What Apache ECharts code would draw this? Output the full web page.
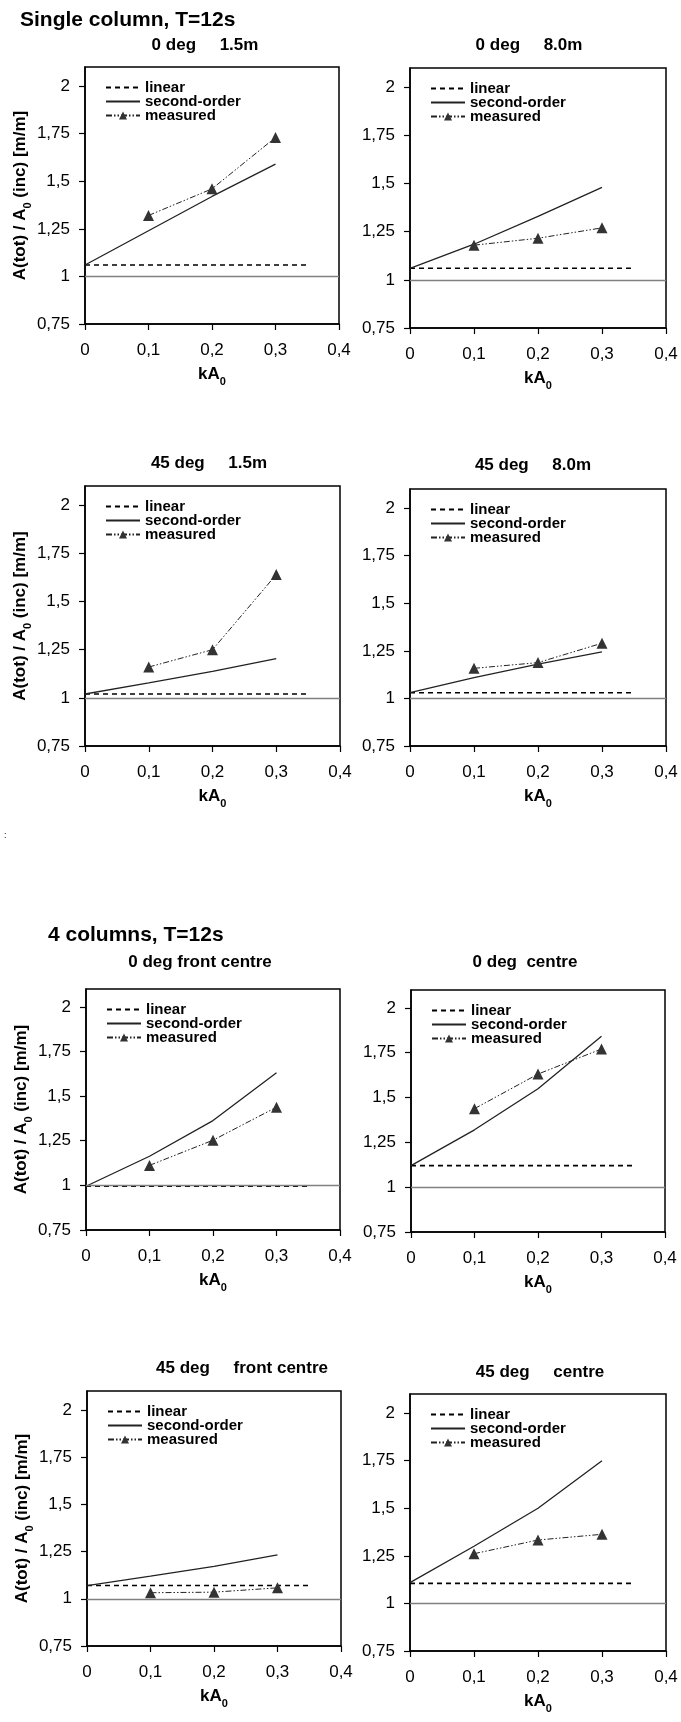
<!DOCTYPE html>
<html>
<head>
<meta charset="utf-8">
<script src="https://cdn.jsdelivr.net/npm/echarts@6/dist/echarts.min.js"></script>
<style>
html,body{margin:0;padding:0;background:#fff}
#main{width:681px;height:1722px}
</style>
</head>
<body>
<div id="main"></div>
<script>
// x values
var xSecond = [0, 0.1, 0.2, 0.3];
var xMeasured = [0.1, 0.2, 0.3];
var xLinear = [0, 0.35];
var xTicks = [0, 0.1, 0.2, 0.3, 0.4];
var yTicks = [0.75, 1, 1.25, 1.5, 1.75, 2];

var panelTitles = ['0 deg     1.5m', '0 deg     8.0m', '45 deg     1.5m', '45 deg     8.0m',
  '0 deg front centre', '0 deg  centre', '45 deg     front centre', '45 deg     centre'];

// linear (horizontal level)
var linearLevel = [1.06, 1.06, 1.02, 1.03, 0.995, 1.12, 1.07, 1.105];

// second-order at x = 0, 0.1, 0.2, 0.3
var secondOrder = [
  [1.06, 1.24, 1.42, 1.59],
  [1.06, 1.185, 1.33, 1.48],
  [1.02, 1.078, 1.138, 1.204],
  [1.03, 1.109, 1.18, 1.245],
  [0.995, 1.163, 1.363, 1.631],
  [1.12, 1.32, 1.549, 1.842],
  [1.07, 1.12, 1.172, 1.232],
  [1.109, 1.30, 1.50, 1.749]
];

// measured at x = 0.1, 0.2, 0.3
var measured = [
  [1.32, 1.46, 1.73],
  [1.18, 1.216, 1.27],
  [1.16, 1.25, 1.64],
  [1.158, 1.188, 1.29],
  [1.112, 1.253, 1.438],
  [1.438, 1.631, 1.771],
  [1.032, 1.035, 1.058],
  [1.261, 1.333, 1.363]
];

// 布局: left, top, width, height
var boxes = [
  [85, 67, 254, 257],
  [410, 68, 256, 260],
  [85, 486, 255, 260],
  [410, 489, 256, 257],
  [86, 989, 254, 241],
  [411, 990, 254, 242],
  [87, 1391, 254, 255],
  [410, 1394, 256, 257]
];
var titlePos = [[205, 45], [529, 45], [209, 463], [533, 465], [200, 962], [525, 962], [242, 1368], [540, 1372]];

var FONT = '"Liberation Sans", Arial, sans-serif';

function fmt(v) {
  return String(v).replace('.', ',');
}
function pairs(xs, ys) {
  var out = [];
  for (var i = 0; i < xs.length; i++) out.push([xs[i], ys[i]]);
  return out;
}

var richSub = {
  b: {fontSize: 17, fontWeight: 'bold', color: '#000', lineHeight: 17, verticalAlign: 'top', fontFamily: FONT},
  sub: {fontSize: 11, fontWeight: 'bold', color: '#000', lineHeight: 11, verticalAlign: 'top', padding: [10, 0, 0, 0], fontFamily: FONT}
};

var grids = [], xAxes = [], yAxes = [], series = [], legends = [], graphics = [];

graphics.push({type: 'text', x: 20, y: 20, style: {text: 'Single column, T=12s', font: 'bold 21px ' + FONT, fill: '#000', textAlign: 'left', textVerticalAlign: 'middle', align: 'left', verticalAlign: 'middle'}});
graphics.push({type: 'text', x: 48, y: 935, style: {text: '4 columns, T=12s', font: 'bold 21px ' + FONT, fill: '#000', textAlign: 'left', textVerticalAlign: 'middle', align: 'left', verticalAlign: 'middle'}});
graphics.push({type: 'text', x: 4, y: 836, style: {text: ':', font: '9px ' + FONT, fill: '#000', textAlign: 'left', textVerticalAlign: 'middle', align: 'left', verticalAlign: 'middle'}});

for (var i = 0; i < 8; i++) {
  var b = boxes[i];
  grids.push({left: b[0], top: b[1], width: b[2], height: b[3], show: true, borderColor: '#000', borderWidth: 1.5, backgroundColor: 'transparent'});

  graphics.push({type: 'text', x: titlePos[i][0], y: titlePos[i][1],
    style: {text: panelTitles[i], font: 'bold 17px ' + FONT, fill: '#000', textAlign: 'center', textVerticalAlign: 'middle', align: 'center', verticalAlign: 'middle'}});

  xAxes.push({
    gridIndex: i, type: 'value', min: 0, max: 0.4, interval: 0.1,
    name: '{b|kA}{sub|0}', nameLocation: 'middle', nameGap: 42,
    nameTextStyle: {rich: richSub},
    axisLine: {show: true, onZero: false, lineStyle: {color: '#000', width: 1.5}},
    axisTick: {show: true, inside: false, length: 6, customValues: xTicks, lineStyle: {color: '#000', width: 1.2}},
    axisLabel: {customValues: xTicks, fontSize: 17, color: '#000', margin: 18, fontFamily: FONT, formatter: fmt},
    splitLine: {show: false}
  });

  yAxes.push({
    gridIndex: i, type: 'value', min: 0.75, max: 2.1, interval: 0.25,
    name: i % 2 === 0 ? '{b|A(tot) / A}{sub|0}{b| (inc) [m/m]}' : '',
    nameLocation: 'middle', nameRotate: 90, nameGap: 56,
    nameTextStyle: {rich: richSub},
    axisLine: {show: true, onZero: false, lineStyle: {color: '#000', width: 1.5}},
    axisTick: {show: true, inside: false, length: 6, customValues: yTicks, lineStyle: {color: '#000', width: 1.2}},
    axisLabel: {customValues: yTicks, fontSize: 17, color: '#000', margin: 15, fontFamily: FONT, formatter: fmt},
    splitLine: {show: false}
  });

  series.push({
    name: 'linear', type: 'line', xAxisIndex: i, yAxisIndex: i,
    data: pairs(xLinear, [linearLevel[i], linearLevel[i]]),
    symbol: 'none', itemStyle: {color: 'rgba(0,0,0,0)'},
    lineStyle: {color: '#000', width: 1.6, type: [5, 4]},
    markLine: {
      silent: true, symbol: 'none', label: {show: false},
      lineStyle: {color: '#808080', type: 'solid', width: 1.3},
      data: [{yAxis: 1}]
    },
    z: 3
  });
  series.push({
    name: 'second-order', type: 'line', xAxisIndex: i, yAxisIndex: i,
    data: pairs(xSecond, secondOrder[i]),
    symbol: 'none', itemStyle: {color: 'rgba(0,0,0,0)'},
    lineStyle: {color: '#222', width: 1.3, type: 'solid'}, z: 4
  });
  series.push({
    name: 'measured', type: 'line', xAxisIndex: i, yAxisIndex: i,
    data: pairs(xMeasured, measured[i]),
    symbol: 'triangle', symbolSize: 11,
    itemStyle: {color: '#333'},
    lineStyle: {color: '#222', width: 1, type: [6, 2, 1.5, 2, 1.5, 2]}, z: 5
  });

  legends.push({
    data: ['linear', 'second-order', 'measured'],
    orient: 'vertical', left: b[0] + 15, top: b[1] + 8,
    itemWidth: 34, itemHeight: 10, itemGap: -1, selectedMode: false,
    textStyle: {fontSize: 15, fontWeight: 'bold', color: '#000', lineHeight: 13, fontFamily: FONT}
  });
}

var chart = echarts.init(document.getElementById('main'));
chart.setOption({
  animation: false,
  backgroundColor: '#fff',
  textStyle: {fontFamily: FONT},
  grid: grids,
  xAxis: xAxes,
  yAxis: yAxes,
  legend: legends,
  series: series,
  graphic: graphics
});
</script>
</body>
</html>
